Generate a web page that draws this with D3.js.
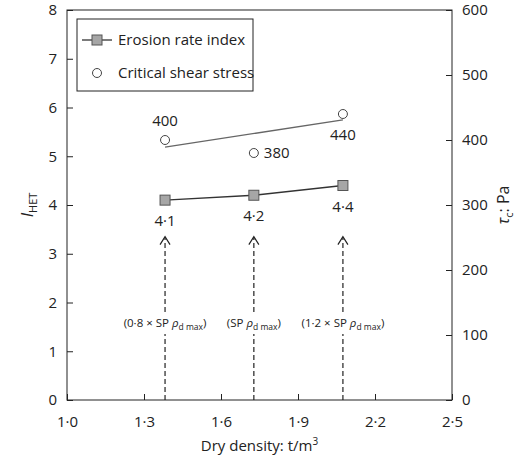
<!DOCTYPE html><html><head><meta charset="utf-8"><script src="https://cdn.jsdelivr.net/npm/d3@7"></script>
<style>body{margin:0;background:#fff}text{font-family:"Open Sans","Noto Sans",sans-serif;}</style></head><body><svg id="c" width="520" height="461"></svg>
<script>
const densities=[1.382,1.728,2.075];
const erosion=[4.1,4.2,4.4];
const erosionLabels=["4·1","4·2","4·4"];
const shear=[400,380,440];
const shearTrend=[389,431];
const arrowLabels=[["(0·8 × SP ","ρ","d max",")"],["(SP ","ρ","d max",")"],["(1·2 × SP ","ρ","d max",")"]];
const xTicks=[1.0,1.3,1.6,1.9,2.2,2.5];
const fmt=d=>d.toFixed(1).replace(".","·");
const svg=d3.select("#c");
const L=67,R=452,T=10,B=400;
const x=d3.scaleLinear().domain([1,2.5]).range([L,R]);
const y=d3.scaleLinear().domain([0,8]).range([B,T]);
const y2=d3.scaleLinear().domain([0,600]).range([B,T]);
const g=svg.append("g");
g.append("rect").attr("x",L).attr("y",T).attr("width",R-L).attr("height",B-T).attr("fill","none").attr("stroke","#222");
const ax=g.append("g").attr("transform",`translate(0,${B})`).call(d3.axisTop(x).tickValues(xTicks).tickFormat(fmt).tickSize(6));
ax.selectAll("text").attr("y",16).attr("dy","0.71em");
const ay=g.append("g").attr("transform",`translate(${L},0)`).call(d3.axisRight(y).ticks(8).tickSize(6));
ay.selectAll("text").attr("x",-10).attr("text-anchor","end");
const ay2=g.append("g").attr("transform",`translate(${R},0)`).call(d3.axisLeft(y2).ticks(6).tickSize(6));
ay2.selectAll("text").attr("x",10).attr("text-anchor","start");
g.selectAll(".domain").remove();
g.selectAll(".tick line").attr("stroke","#222");
g.selectAll(".tick text").attr("font-size",15).attr("fill","#222");
// arrows
densities.forEach((d,i)=>{
 const tipY=y(3.35), cx=x(d);
 g.append("line").attr("x1",cx).attr("x2",cx).attr("y1",B).attr("y2",tipY+1).attr("stroke","#222").attr("stroke-dasharray","5,3").attr("stroke-width",1.2);
 g.append("path").attr("d",`M${cx-5},${tipY+8} L${cx},${tipY} L${cx+5},${tipY+8}`).attr("fill","none").attr("stroke","#222").attr("stroke-width",1.2);
 const t=g.append("text").attr("x",cx).attr("y",y(1.6)+5).attr("text-anchor","middle").attr("font-size",11.5).attr("font-family","Liberation Serif, serif").attr("fill","#222");
 const a=arrowLabels[i];
 t.append("tspan").text(a[0]);t.append("tspan").attr("font-style","italic").text(a[1]);
 t.append("tspan").attr("font-size",8.5).attr("dy",3).text(a[2]);t.append("tspan").attr("dy",-3).text(a[3]);
 const bb=t.node().getBBox();
 g.insert("rect",()=>t.node()).attr("x",bb.x-1).attr("y",bb.y-2).attr("width",bb.width+2).attr("height",bb.height+4).attr("fill","#fff");
});
// erosion
const line=d3.line().x((d,i)=>x(densities[i])).y(d=>y(d));
g.append("path").datum(erosion).attr("d",line).attr("fill","none").attr("stroke","#333").attr("stroke-width",1.3);
g.selectAll(".sq").data(erosion).join("rect").attr("x",(d,i)=>x(densities[i])-5).attr("y",d=>y(d)-5).attr("width",10).attr("height",10).attr("fill","#a6a6a6").attr("stroke","#555");
g.selectAll(".el").data(erosion).join("text").attr("x",(d,i)=>x(densities[i])).attr("y",d=>y(d)+26).attr("text-anchor","middle").attr("font-size",15).attr("fill","#222").text((d,i)=>erosionLabels[i]);
// shear
g.append("line").attr("x1",x(densities[0])).attr("x2",x(densities[2])).attr("y1",y2(shearTrend[0])).attr("y2",y2(shearTrend[1])).attr("stroke","#666").attr("stroke-width",1.3);
g.selectAll(".ci").data(shear).join("circle").attr("cx",(d,i)=>x(densities[i])).attr("cy",d=>y2(d)).attr("r",4.5).attr("fill","#fff").attr("stroke","#444");
const so=[[0,-14,"middle"],[10,5,"start"],[0,26,"middle"]];
g.selectAll(".sl").data(shear).join("text").attr("x",(d,i)=>x(densities[i])+so[i][0]).attr("y",(d,i)=>y2(d)+so[i][1]).attr("text-anchor",(d,i)=>so[i][2]).attr("font-size",15).attr("fill","#222").text(d=>d);
// legend
const lg=g.append("g");
lg.append("rect").attr("x",77).attr("y",19).attr("width",176).attr("height",72).attr("fill","#fff").attr("stroke","#222");
lg.append("line").attr("x1",82).attr("x2",112).attr("y1",40).attr("y2",40).attr("stroke","#333").attr("stroke-width",1.3);
lg.append("rect").attr("x",92).attr("y",35).attr("width",10).attr("height",10).attr("fill","#a6a6a6").attr("stroke","#555");
lg.append("text").attr("x",118).attr("y",45).attr("font-size",15).attr("fill","#222").text("Erosion rate index");
lg.append("circle").attr("cx",97).attr("cy",73).attr("r",4.5).attr("fill","#fff").attr("stroke","#444");
lg.append("text").attr("x",118).attr("y",78).attr("font-size",15).attr("fill","#222").text("Critical shear stress");
// axis titles
const xt=svg.append("text").attr("x",(L+R)/2).attr("y",451).attr("text-anchor","middle").attr("font-size",15).attr("fill","#222");
xt.append("tspan").text("Dry density: t/m");xt.append("tspan").attr("font-size",10).attr("dy",-6).text("3");
const yt=svg.append("text").attr("transform",`translate(33,${(T+B)/2}) rotate(-90)`).attr("text-anchor","middle").attr("font-size",16).attr("fill","#222");
yt.append("tspan").attr("font-style","italic").text("I");yt.append("tspan").attr("font-size",11).attr("dy",4).text("HET");
const yt2=svg.append("text").attr("transform",`translate(509,${(T+B)/2}) rotate(-90)`).attr("text-anchor","middle").attr("font-size",16).attr("fill","#222");
yt2.append("tspan").attr("font-style","italic").text("τ");yt2.append("tspan").attr("font-size",11).attr("dy",4).text("c");yt2.append("tspan").attr("dy",-4).text(": Pa");
</script></body></html>
